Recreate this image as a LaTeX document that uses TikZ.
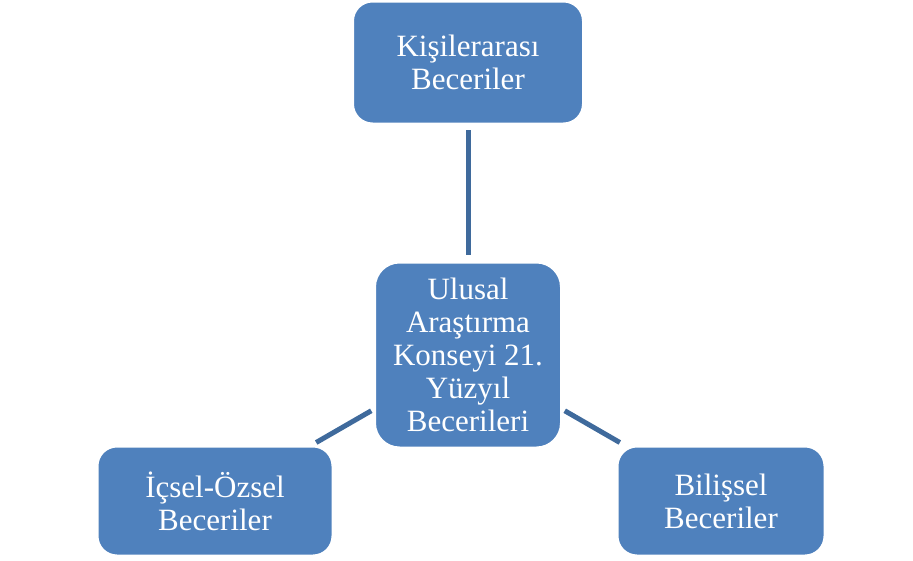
\documentclass[tikz,border=0pt]{standalone}
\usepackage{fontspec}
\setmainfont{Liberation Serif}
\usepackage{tikz}

\definecolor{boxblue}{HTML}{4F81BD}
\definecolor{linkblue}{HTML}{3F6A9C}

\tikzset{
  skill/.style={rectangle, rounded corners=20pt, fill=boxblue, draw=white,
    line width=3pt, text=white, align=center, inner sep=0pt,
    font=\fontsize{31}{33}\selectfont},
  link/.style={draw=linkblue, line width=5pt}
}

\begin{document}
\begin{tikzpicture}[x=1pt,y=-1pt]
    \useasboundingbox (0,0) rectangle (913,560);

    \node[skill, minimum width=231pt, minimum height=123pt] (inter) at (468,62.5)
      {Kişilerarası\\Beceriler};
    \node[skill, minimum width=187pt, minimum height=186pt, rounded corners=25pt] (nrc) at (468,355)
      {Ulusal\\Araştırma\\Konseyi 21.\\Yüzyıl\\Becerileri};
    \node[skill, minimum width=236pt, minimum height=110pt] (intra) at (215,501)
      {İçsel-Özsel\\Beceriler};
    \node[skill, minimum width=208pt, minimum height=110pt] (cog) at (721,501)
      {Bilişsel\\Beceriler};

    % connectors from the centre
    \draw[link, shorten <=6pt, shorten >=4pt] (nrc) -- (inter);
    \draw[link, shorten <=2pt, shorten >=4pt] (nrc) -- (intra);
    \draw[link, shorten <=2pt, shorten >=4pt] (nrc) -- (cog);
\end{tikzpicture}
\end{document}
